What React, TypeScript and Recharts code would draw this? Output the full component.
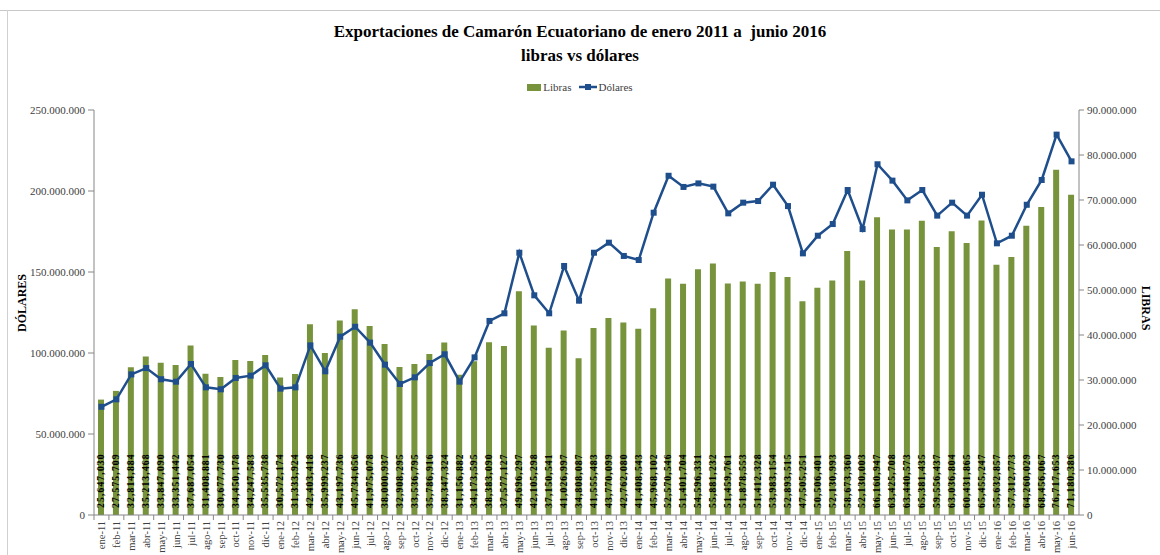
import React from 'react';
import { ComposedChart, Bar, Line, XAxis, YAxis, LabelList } from 'recharts';

const months = [
  'ene-11','feb-11','mar-11','abr-11','may-11','jun-11','jul-11','ago-11','sep-11','oct-11','nov-11','dic-11',
  'ene-12','feb-12','mar-12','abr-12','may-12','jun-12','jul-12','ago-12','sep-12','oct-12','nov-12','dic-12',
  'ene-13','feb-13','mar-13','abr-13','may-13','jun-13','jul-13','ago-13','sep-13','oct-13','nov-13','dic-13',
  'ene-14','feb-14','mar-14','abr-14','may-14','jun-14','jul-14','ago-14','sep-14','oct-14','nov-14','dic-14',
  'ene-15','feb-15','mar-15','abr-15','may-15','jun-15','jul-15','ago-15','sep-15','oct-15','nov-15','dic-15',
  'ene-16','feb-16','mar-16','abr-16','may-16','jun-16',
];

const libras = [
  25647030, 27575709, 32814884, 35213468, 33847090, 33351442, 37687054, 31408881, 30677730, 34450178, 34247583, 35535738,
  30572174, 31333924, 42403418, 35999237, 43197736, 45734656, 41975078, 38000937, 32908295, 33536795, 35786916, 38347324,
  31156882, 34173595, 38383090, 37577127, 49696297, 42105298, 37150541, 41026997, 34808087, 41555483, 43770099, 42762080,
  41408543, 45968102, 52570546, 51401704, 54596331, 55881232, 51459761, 51878553, 51412328, 53983154, 52893515, 47505251,
  50506401, 52130993, 58673360, 52130003, 66160947, 63425708, 63440573, 65381435, 59556437, 63036804, 60431865, 65455247,
  55632857, 57312773, 64260029, 68456067, 76717653, 71180386,
];

const dolares = [
  66800000, 71400000, 86800000, 90700000, 83800000, 82300000, 93200000, 78800000, 77600000, 84600000, 86000000, 92400000,
  78000000, 78800000, 104700000, 88700000, 110100000, 116200000, 106400000, 92800000, 80900000, 85000000, 93800000, 99200000,
  82300000, 97300000, 119800000, 124500000, 161900000, 135600000, 124500000, 153700000, 132300000, 161900000, 168100000, 159900000,
  157400000, 186600000, 209400000, 202500000, 204700000, 202700000, 186200000, 192800000, 193800000, 203900000, 190700000, 161500000,
  172400000, 179600000, 200600000, 176500000, 216500000, 206400000, 194200000, 200600000, 184800000, 192800000, 184800000, 197700000,
  167700000, 172400000, 191500000, 206800000, 234800000, 218300000,
];

const leftTicks = [0, 50000000, 100000000, 150000000, 200000000, 250000000];
const rightTicks = [0, 10000000, 20000000, 30000000, 40000000, 50000000, 60000000, 70000000, 80000000, 90000000];

const data = months.map((m, i) => ({ month: m, libras: libras[i], dolares: dolares[i] }));

const SERIF = "'Liberation Serif', 'Times New Roman', serif";
const GREEN = '#77933C';
const BLUE = '#1F4E8C';
const AXIS = '#868686';

const dotFmt = (n: number) => String(n).replace(/\B(?=(\d{3})+(?!\d))/g, '.');
const commaFmt = (n: number) => String(n).replace(/\B(?=(\d{3})+(?!\d))/g, ',');

const MonthTick = (props: any) => {
  const { x, y, payload } = props;
  const half = 14.94 / 2;
  return (
    <g>
      <line x1={x - half} y1={y - 8} x2={x - half} y2={y - 3} stroke={AXIS} />
      <text
        x={0}
        y={0}
        transform={`translate(${x},${y - 2}) rotate(-90)`}
        textAnchor="end"
        dy="0.35em"
        fontFamily={SERIF}
        fontSize={10.5}
        fill="#404040"
      >
        {payload.value}
      </text>
    </g>
  );
};

const BarValueLabel = (props: any) => {
  const { x, y, width, height, value } = props;
  const cx = Number(x) + Number(width) / 2;
  const by = Number(y) + Number(height) - 7;
  return (
    <text
      x={0}
      y={0}
      transform={`translate(${cx},${by}) rotate(-90)`}
      textAnchor="start"
      dy="0.35em"
      fontFamily={SERIF}
      fontSize={9.5}
      fontWeight="bold"
      letterSpacing={1.2}
      fill="#000"
    >
      {commaFmt(Number(value))}
    </text>
  );
};

const SquareDot = (props: any) => {
  const { cx, cy, index } = props;
  if (cx == null || cy == null) return <g key={`e${index}`} />;
  return <rect key={`d${index}`} x={cx - 3} y={cy - 3} width={6} height={6} fill={BLUE} />;
};

export default function App() {
  return (
    <div style={{ position: 'absolute', left: 0, top: 0, width: 1160, height: 555, background: '#fff', overflow: 'hidden' }}>
      <div style={{ position: 'absolute', left: 0, top: 10, width: 1160, height: 1, background: '#c8c8c8' }} />
      <div style={{ position: 'absolute', left: 7, top: 10, width: 1, height: 545, background: '#d0d0d0' }} />
      <div
        style={{
          position: 'absolute', left: 0, top: 20, width: 1160, textAlign: 'center',
          fontFamily: SERIF, fontWeight: 'bold', fontSize: 17, lineHeight: '24px', color: '#000', whiteSpace: 'pre',
        }}
      >
        {'Exportaciones de Camarón Ecuatoriano de enero 2011 a  junio 2016'}
        {'\n'}
        {'libras vs dólares'}
      </div>
      <div
        style={{
          position: 'absolute', left: 0, top: 81, width: 1160, display: 'flex', justifyContent: 'center',
          alignItems: 'center', fontFamily: SERIF, fontSize: 11, color: '#404040', gap: 8,
        }}
      >
        <div style={{ display: 'flex', alignItems: 'center' }}>
          <span style={{ display: 'inline-block', width: 14, height: 7, background: GREEN, marginRight: 2 }} />
          <span>Libras</span>
        </div>
        <div style={{ display: 'flex', alignItems: 'center' }}>
          <svg width={18} height={10} style={{ marginRight: 1 }}>
            <line x1={0} y1={5} x2={18} y2={5} stroke={BLUE} strokeWidth={2.5} />
            <rect x={6} y={2} width={6} height={6} fill={BLUE} />
          </svg>
          <span>Dólares</span>
        </div>
      </div>
      <div
        style={{
          position: 'absolute', left: 22, top: 303, transform: 'translate(-50%, -50%) rotate(-90deg)',
          fontFamily: SERIF, fontWeight: 'bold', fontSize: 12, color: '#000', whiteSpace: 'nowrap',
        }}
      >
        DÓLARES
      </div>
      <div
        style={{
          position: 'absolute', left: 1145, top: 308, transform: 'translate(-50%, -50%) rotate(90deg)',
          fontFamily: SERIF, fontWeight: 'bold', fontSize: 12, color: '#000', whiteSpace: 'nowrap',
        }}
      >
        LIBRAS
      </div>
      <div style={{ position: 'absolute', left: 0, top: 0 }}>
        <ComposedChart
          width={1160}
          height={555}
          data={data}
          margin={{ top: 110, right: 6, bottom: 0, left: 14 }}
          barCategoryGap="30%"
        >
          <XAxis
            dataKey="month"
            interval={0}
            height={40}
            tick={<MonthTick />}
            tickLine={false}
            axisLine={{ stroke: AXIS }}
            padding={{ left: 0, right: 0 }}
          />
          <YAxis
            yAxisId="left"
            orientation="left"
            width={80}
            domain={[0, 250000000]}
            ticks={leftTicks}
            tickFormatter={dotFmt}
            allowDataOverflow
            tickSize={6}
            tickMargin={3}
            axisLine={{ stroke: AXIS }}
            tickLine={{ stroke: AXIS }}
            tick={{ fontFamily: SERIF, fontSize: 11, fill: '#404040' }}
          />
          <YAxis
            yAxisId="right"
            orientation="right"
            width={75}
            domain={[0, 90000000]}
            ticks={rightTicks}
            tickFormatter={dotFmt}
            allowDataOverflow
            tickSize={5}
            tickMargin={3}
            axisLine={{ stroke: AXIS }}
            tickLine={{ stroke: AXIS }}
            tick={{ fontFamily: SERIF, fontSize: 11, fill: '#404040' }}
          />
          <Bar yAxisId="right" dataKey="libras" fill={GREEN} barSize={6} isAnimationActive={false}>
            <LabelList dataKey="libras" content={<BarValueLabel />} />
          </Bar>
          <Line
            yAxisId="left"
            type="linear"
            dataKey="dolares"
            stroke={BLUE}
            strokeWidth={2.5}
            dot={SquareDot}
            activeDot={false}
            isAnimationActive={false}
          />
        </ComposedChart>
      </div>
    </div>
  );
}
